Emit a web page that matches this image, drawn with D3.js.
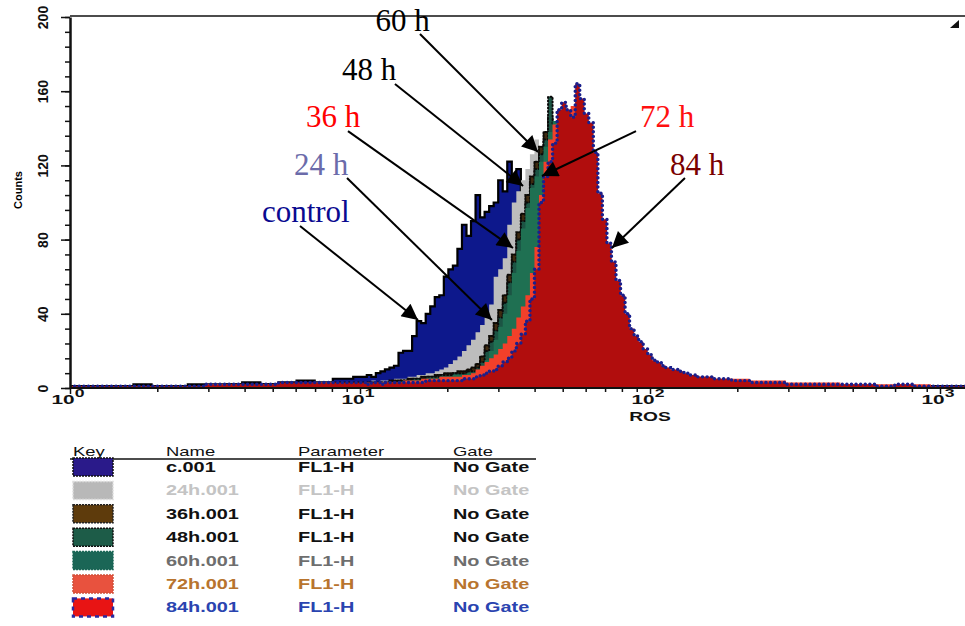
<!DOCTYPE html>
<html>
<head>
<meta charset="utf-8">
<script src="https://cdn.jsdelivr.net/npm/d3@7"></script>
<style>
  body { margin: 0; background: #fff; }
  svg { display: block; }
</style>
</head>
<body>
<div id="chart"></div>
<script>
// Histogram channels (1024-channel log scale, 256 channels per decade)
var channels = [0,16,32,48,64,80,96,112,128,144,160,176,192,208,224,240,
    260,264,268,272,276,280,284,288,292,296,300,304,308,312,316,320,324,328,332,336,
    340,344,348,352,356,360,364,368,372,376,380,384,388,392,396,400,404,408,412,416,
    420,424,428,432,436,440,444,448,452,456,460,464,468,472,476,480,484,488,492,496,
    500,504,508,512,516,520,524,528,532,536,540,544,548,552,556,560,
    576,592,608,624,640,656,672,688,704,720,736,752,768,784,800];

// Counts per sample
var control = [1,1,1,1,2,1,1,2,2,2,3,2,3,4,3,5,
    6,7,6,8,9,10,11,12,19,20, 20,28,36,35,40,44,49,50,60,64,
    66,75,88,82,90,104,92,95,98,100, 112,106,122,112,118,100,80,60,45,32,
    22,15,10,8,6,5,4,4,3,3, 3,2,2,2,2,2,2,2,2,2, 2,2,2,1,2,1,1,1,1,1, 1,1,1,1,1,1,
    1,1,1,1,1,1,1,1,1,1,1,1,1,1,1];
var h24 = [1,1,1,1,1,1,1,1,2,1,2,2,2,2,3,3,
    3,3,4,3,4,4,4,5,5,5, 6,6,7,7,8,8,9,10,11,13,
    15,17,20,23,26,30,34,38,45,60, 64,70,88,100,106,112,118,126,134,128,
    120,105,90,72,58,46,36,28,22,17, 13,10,8,7,6,5,5,4,4,4, 3,3,3,3,3,2,2,2,2,2, 2,2,2,2,2,2,
    2,2,1,1,1,1,1,1,1,1,1,1,1,1,1];
var h36 = [1,1,1,1,1,1,1,1,1,2,2,2,2,2,2,3,
    3,3,3,3,3,3,4,4,4,4, 5,5,5,6,6,6,7,7,8,8,
    8,9,9,10,11,13,17,23,28,35, 42,50,61,72,84,94,104,114,122,130,
    138,146,138,124,110,94,80,66,55,46, 38,32,26,22,18,15,13,11,9,8, 7,6,6,5,5,4,4,4,3,3, 3,3,3,2,2,2,
    2,2,2,2,1,1,1,1,1,1,1,1,1,1,1];
var h48 = [1,1,1,1,1,1,1,1,1,1,2,2,2,2,2,2,
    2,2,3,2,3,3,3,3,4,4, 4,5,5,5,6,6,6,7,7,7,
    8,8,8,9,9,11,14,20,25,31, 38,46,57,68,80,90,100,110,118,126,
    134,157,142,130,118,100,86,72,60,50, 42,35,29,24,20,17,14,12,10,9, 8,7,6,6,5,5,4,4,4,3, 3,3,3,3,2,2,
    2,2,2,2,2,1,1,1,1,1,1,1,1,1,1];
var h60 = [1,1,1,1,1,1,1,1,1,1,1,2,2,2,2,2,
    2,2,2,2,3,3,3,3,3,4, 4,4,4,5,5,5,5,6,6,6,
    7,7,7,8,8,9,11,15,20,26, 33,40,50,62,74,86,97,108,114,122,
    130,138,144,136,124,108,92,78,65,54, 45,38,31,26,22,18,15,13,11,9, 8,7,7,6,5,5,5,4,4,4, 3,3,3,3,3,2,
    2,2,2,2,2,2,1,1,1,1,1,1,1,1,1];
var h72 = [1,1,1,1,1,1,1,1,1,2,1,2,2,2,2,2,
    2,3,2,3,3,3,3,3,3,4, 4,4,4,5,5,5,5,6,6,6,
    6,6,7,7,8,10,12,14,16,18, 21,24,28,32,38,44,50,62,76,104,
    122,134,142,150,152,150,152,156,150,142, 138,118,100,86,76,66,56,48,38,32,
    27,23,19,16,14,13,12,10,10,9, 8,8,7,7,6,6,
    5,5,4,4,3,3,3,2,2,2,2,2,1,1,1];
var h84 = [1,1,1,1,1,1,1,1,2,2,2,2,3,3,3,3,
    3,2,3,3,2,3,3,3,3,3, 3,3,3,3,4,4,4,4,4,4,
    4,4,5,5,5,6,7,8,9,10, 12,14,16,20,24,29,36,48,64,100,
    114,122,132,150,154,150,146,164,156,148, 143,127,105,91,78,68,58,50,40,32,
    28,25,21,18,15,14,12,11,10,10, 9,8,7,7,6,6,
    5,4,3,3,2,2,2,2,2,1,2,1,1,1,1];

// Legend table
var sampleNames = ["c.001", "24h.001", "36h.001", "48h.001", "60h.001", "72h.001", "84h.001"];
var parameterNames = ["FL1-H", "FL1-H", "FL1-H", "FL1-H", "FL1-H", "FL1-H", "FL1-H"];
var gateNames = ["No Gate", "No Gate", "No Gate", "No Gate", "No Gate", "No Gate", "No Gate"];
var legendHeaders = ["Key", "Name", "Parameter", "Gate"];

// Tick values
var yMajorTicks = [0, 40, 80, 120, 160, 200];
var xDecades = [1, 10, 100, 1000];

// Annotations: label, arrow from -> to, all in (ROS, counts)
var annLabels = ["control", "24 h", "36 h", "48 h", "60 h", "72 h", "84 h"];
var annText = [[4.59, 89.5], [5.92, 114.8], [6.51, 140.7], [8.67, 166], [11.3, 192.5], [92.4, 140.7], [117.2, 114.8]];
var annFrom = [[6.21, 87.3], [9.02, 113.2], [9.09, 138.5], [13.2, 163.9], [16.1, 190.8], [89.5, 138.5], [132, 113.2]];
var annTo = [[15.85, 36.7], [28.5, 36.7], [33.7, 75.5], [36.5, 108.9], [41.1, 127.2], [42.4, 114.3], [73.9, 75.5]];

// Sample styles (back to front)
var samples = [
    {counts: control, fill: "#0d188c", stroke: "#000", width: 2.2, dash: null},
    {counts: h24, fill: "#bdbdbd", stroke: null},
    {counts: h36, fill: "#3e2a10", stroke: "#0d0a05", width: 2, dash: "1.5,1.5"},
    {counts: h48, fill: "#1c5444", stroke: "#0a0a0a", width: 2, dash: "1,2.5"},
    {counts: h60, fill: "#1f7052", stroke: null},
    {counts: h72, fill: "#f2402a", stroke: null},
    {counts: h84, fill: "#b10d0d", stroke: "#1a1f8c", width: 3.4, dash: "0.1,4.5"}
];
var swatchFills = ["#2a1a8a", "#b8b8b8", "#5e3b0c", "#1d5c48", "#1b6656", "#e8523e", "#e81414"];
var swatchBorders = ["#111", "#ddd", "#222", "#111", "#1b6656", "#d0503a", "#2a2aa0"];
var textColors = ["#111", "#c4c4c4", "#111", "#111", "#6e6e6e", "#b8742e", "#2a44b0"];
var annColors = ["#0a0a90", "#6b6baa", "#ff0000", "#000", "#000", "#ff1010", "#7a0000"];

var width = 965, height = 626;
var plot = {left: 70, right: 965, top: 17, bottom: 388};
var labelFont = "'Liberation Sans', Arial, sans-serif";
var wide = 1.6; // the x labels are printed in an extended face

var svg = d3.select("#chart").append("svg")
    .attr("width", width)
    .attr("height", height);

var x = d3.scaleLog().domain([1, 1000]).range([70, 940]),
    y = d3.scaleLinear().domain([0, 200]).range([plot.bottom, plot.top]);

function ros(ch) { return Math.pow(10, ch / 256); }

var defs = svg.append("defs");
defs.append("clipPath")
    .attr("id", "clip")
    .append("rect")
    .attr("x", plot.left)
    .attr("y", plot.top)
    .attr("width", plot.right - plot.left)
    .attr("height", plot.bottom - plot.top);

var area = d3.area()
    .curve(d3.curveStep)
    .x(function(d, i) { return x(ros(channels[i])); })
    .y0(y(0))
    .y1(function(d) { return y(d); });

var line = d3.line()
    .curve(d3.curveStep)
    .x(function(d, i) { return x(ros(channels[i])); })
    .y(function(d) { return y(d); });

var hist = svg.append("g").attr("clip-path", "url(#clip)");

samples.forEach(function(s) {
    hist.append("path")
        .datum(s.counts)
        .attr("d", area)
        .attr("fill", s.fill);
    if (s.stroke) {
        hist.append("path")
            .datum(s.counts)
            .attr("d", line)
            .attr("fill", "none")
            .attr("stroke", s.stroke)
            .attr("stroke-width", s.width)
            .attr("stroke-linecap", "round")
            .attr("stroke-dasharray", s.dash);
    }
});

// Top frame line and its corner mark
svg.append("line")
    .attr("x1", plot.left).attr("x2", plot.right)
    .attr("y1", plot.top - 1).attr("y2", plot.top - 1)
    .attr("stroke", "#111").attr("stroke-width", 1.5);
svg.append("path")
    .attr("d", "M" + (plot.right - 15) + ",28 L" + (plot.right - 6) + ",20 L" + (plot.right - 6) + ",28 Z")
    .attr("fill", "#111");

// Y axis: minor ticks every 8, major every 40
svg.append("g")
    .attr("transform", "translate(" + plot.left + ",0)")
    .call(d3.axisLeft(y).tickValues(d3.range(0, 201, 8)).tickSize(5).tickFormat(""))
    .call(function(g) { g.select(".domain").remove(); })
    .selectAll("line").attr("stroke", "#111").attr("stroke-width", 1.5);

var yAxis = svg.append("g")
    .attr("transform", "translate(" + plot.left + ",0)")
    .call(d3.axisLeft(y).tickValues(yMajorTicks).tickSize(9).tickSizeOuter(0));
yAxis.select(".domain").attr("stroke-width", 2.5).attr("stroke", "#111");
yAxis.selectAll(".tick line").attr("stroke-width", 1.5).attr("stroke", "#111");
yAxis.selectAll(".tick text")
    .attr("transform", "rotate(-90)")
    .attr("x", 0)
    .attr("y", -22)
    .attr("dy", 0)
    .attr("text-anchor", "middle")
    .attr("fill", "#111")
    .style("font", "bold 14px " + labelFont);

svg.append("text")
    .attr("transform", "translate(22,190) rotate(-90)")
    .attr("text-anchor", "middle")
    .style("font", "bold 11px " + labelFont)
    .text("Counts");

// X axis: log decades with minor ticks
var minorX = [];
xDecades.slice(0, 3).forEach(function(d) {
    for (var k = 2; k <= 9; k++) minorX.push(d * k);
});
svg.append("g")
    .attr("transform", "translate(0," + plot.bottom + ")")
    .call(d3.axisBottom(x).tickValues(minorX).tickSize(4).tickFormat(""))
    .call(function(g) { g.select(".domain").remove(); })
    .selectAll("line").attr("stroke", "#111").attr("stroke-width", 1.5);

var xAxis = svg.append("g")
    .attr("transform", "translate(0," + plot.bottom + ")")
    .call(d3.axisBottom(x).tickValues(xDecades).tickSize(6).tickFormat(""));
xAxis.select(".domain").remove();
xAxis.selectAll(".tick line").attr("stroke", "#111").attr("stroke-width", 1.5);

svg.append("line")
    .attr("x1", plot.left).attr("x2", plot.right)
    .attr("y1", plot.bottom).attr("y2", plot.bottom)
    .attr("stroke", "#111").attr("stroke-width", 2);

var xLabels = svg.append("g").selectAll("text")
    .data(xDecades)
    .enter().append("text")
    .attr("transform", function(d) { return "translate(" + (x(d) - 2) + ",404) scale(" + wide + ",1)"; })
    .attr("text-anchor", "middle")
    .attr("fill", "#111")
    .style("font", "bold 13px " + labelFont);
xLabels.append("tspan").text("10");
xLabels.append("tspan")
    .attr("dy", -7)
    .style("font-size", "11px")
    .text(function(d) { return Math.round(Math.log10(d)); });

svg.append("text")
    .attr("transform", "translate(" + x(100) + ",421) scale(" + wide + ",1)")
    .attr("text-anchor", "middle")
    .attr("fill", "#111")
    .style("font", "bold 12px " + labelFont)
    .text("ROS");

// Annotation arrows
defs.append("marker")
    .attr("id", "arrow")
    .attr("viewBox", "0 0 10 10")
    .attr("refX", 10).attr("refY", 5)
    .attr("markerUnits", "userSpaceOnUse")
    .attr("markerWidth", 22).attr("markerHeight", 16)
    .attr("orient", "auto")
    .append("path")
    .attr("d", "M0,0 L10,5 L0,10 z")
    .attr("fill", "#000");

var ann = svg.append("g");
annLabels.forEach(function(label, i) {
    ann.append("line")
        .attr("x1", x(annFrom[i][0])).attr("y1", y(annFrom[i][1]))
        .attr("x2", x(annTo[i][0])).attr("y2", y(annTo[i][1]))
        .attr("stroke", "#000")
        .attr("stroke-width", 2)
        .attr("marker-end", "url(#arrow)");
    ann.append("text")
        .attr("x", x(annText[i][0]))
        .attr("y", y(annText[i][1]))
        .attr("fill", annColors[i])
        .style("font", "31px 'Liberation Serif', 'Times New Roman', serif")
        .text(label);
});

// Legend table (the printed key uses a wide face, so stretch it)
var stretch = 1.42;
var colX = [73, 166, 298, 453];
var legend = svg.append("g");
var legendText = legend.append("g")
    .attr("transform", "scale(" + stretch + ",1)")
    .style("font", "bold 14px " + labelFont);

legendText.selectAll(".hdr")
    .data(legendHeaders)
    .enter().append("text")
    .attr("class", "hdr")
    .attr("x", function(d, i) { return colX[i] / stretch; })
    .attr("y", 456)
    .attr("fill", "#111")
    .style("font-weight", "normal")
    .style("font-size", "13px")
    .text(function(d) { return d; });
legend.append("line")
    .attr("x1", 70).attr("x2", 536)
    .attr("y1", 459).attr("y2", 459)
    .attr("stroke", "#111").attr("stroke-width", 1.5);

var rowY = function(i) { return 467 + i * 23.4; };
legend.selectAll(".swatch")
    .data(sampleNames)
    .enter().append("rect")
    .attr("class", "swatch")
    .attr("x", 73).attr("y", function(d, i) { return rowY(i) - 9; })
    .attr("width", 40).attr("height", 18)
    .attr("fill", function(d, i) { return swatchFills[i]; })
    .attr("stroke", function(d, i) { return swatchBorders[i]; })
    .attr("stroke-width", function(d, i) { return i === 6 ? 2.5 : 1.5; })
    .attr("stroke-dasharray", function(d, i) { return i === 6 ? "4,4" : "2,1"; });

var rows = legendText.selectAll(".row")
    .data(sampleNames)
    .enter().append("g")
    .attr("class", "row")
    .attr("fill", function(d, i) { return textColors[i]; })
    .attr("transform", function(d, i) { return "translate(0," + (rowY(i) + 5) + ")"; });
rows.append("text")
    .attr("x", colX[1] / stretch)
    .text(function(d) { return d; });
rows.append("text")
    .attr("x", colX[2] / stretch)
    .text(function(d, i) { return parameterNames[i]; });
rows.append("text")
    .attr("x", colX[3] / stretch)
    .text(function(d, i) { return gateNames[i]; });
</script>
</body>
</html>
